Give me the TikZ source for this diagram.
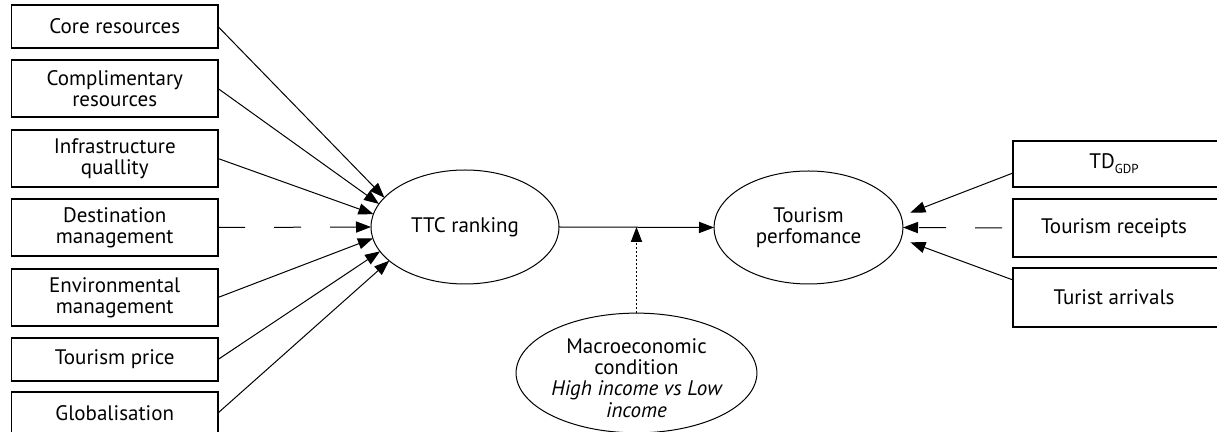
\documentclass[tikz,border=0pt]{standalone}
\usepackage{fontspec}
\setmainfont{PT Sans}
\usetikzlibrary{arrows.meta,shapes.geometric,calc}
\begin{document}
\begin{tikzpicture}[x=0.5pt,y=-0.5pt,
  every node/.style={font=\fontsize{10.5}{10.5}\selectfont, align=center, inner sep=0pt, outer sep=0pt},
  box/.style={draw, line width=0.6pt, minimum width=103.25pt},
  rbox/.style={draw, line width=0.6pt, minimum width=116pt},
  oval/.style={draw, ellipse, line width=0.5pt},
  link/.style={line width=0.5pt, -{Triangle[length=7.5pt,width=5.6pt]}},
  longdash/.style={dash pattern=on 13.5pt off 14.5pt},
  fine/.style={dash pattern=on 1pt off 1pt}]
\useasboundingbox (0,0) rectangle (1217,432);
\clip (0,0) rectangle (1217,432);
% left boxes
\node[box, minimum height=21.5pt] (core)  at (114.75,26.5)  {Core resources};
\node[box, minimum height=28.5pt] (comp)  at (114.75,88.5)  {Complimentary\\resources};
\node[box, minimum height=28.5pt] (infra) at (114.75,158.5) {Infrastructure\\quallity};
\node[box, minimum height=28.5pt] (dest)  at (114.75,227.5) {Destination\\management};
\node[box, minimum height=28.5pt] (env)   at (114.75,297.5) {Environmental\\management};
\node[box, minimum height=21.5pt] (price) at (114.75,359.5) {Tourism price};
\node[box, minimum height=21pt]   (glob)  at (114.75,413)   {Globalisation};
% ellipses
\node[oval, minimum width=94pt, minimum height=57pt] (ttc) at (465,227) {TTC ranking};
\node[oval, minimum width=94.5pt, minimum height=56.5pt] (tp) at (808.5,227.5) {Tourism\\perfomance};
\node[oval, minimum width=105.5pt, minimum height=59pt] (macro) at (636.5,373)
  {\raisebox{-4pt}[\height][\depth]{\begin{tabular}{@{}c@{}}Macroeconomic\\condition\\\itshape High income vs Low\\\itshape income\end{tabular}}};
% right boxes (right edge runs off the picture)
\node[rbox, minimum height=23pt]   (td)  at (1129,164)   {TD\raisebox{-0.45ex}{\fontsize{6.5}{6.5}\selectfont GDP}\hspace*{15pt}};
\node[rbox, minimum height=29pt]   (rec) at (1129,228)   {Tourism receipts\hspace*{15pt}};
\node[rbox, minimum height=29.5pt] (arr) at (1129,297.5) {Turist arrivals\hspace*{15pt}};
% left connectors
\draw[link] (core.east)  -- (ttc.160);
\draw[link] (comp.east)  -- (ttc.165);
\draw[link] (infra.east) -- (ttc.172);
\draw[link, longdash] (dest.east) -- (ttc.west);
\draw[link] (env.east)   -- (ttc.187);
\draw[link] (price.east) -- (ttc.196);
\draw[link] (glob.east)  -- (ttc.204);
% middle
\draw[link] (ttc.east) -- (tp.west);
\coordinate (mid) at (macro.north |- ttc.east);
\draw[link, fine] (macro.north) -- (mid);
% right connectors
\draw[link, shorten >=5pt] ([yshift=-4.5pt]td.west) -- (tp.7);
\draw[link, longdash, dash phase=22.5pt] (rec.west) -- (tp.east);
\draw[link, shorten >=5pt] ([yshift=8.75pt]arr.west) -- (tp.353.5);
\end{tikzpicture}
\end{document}
